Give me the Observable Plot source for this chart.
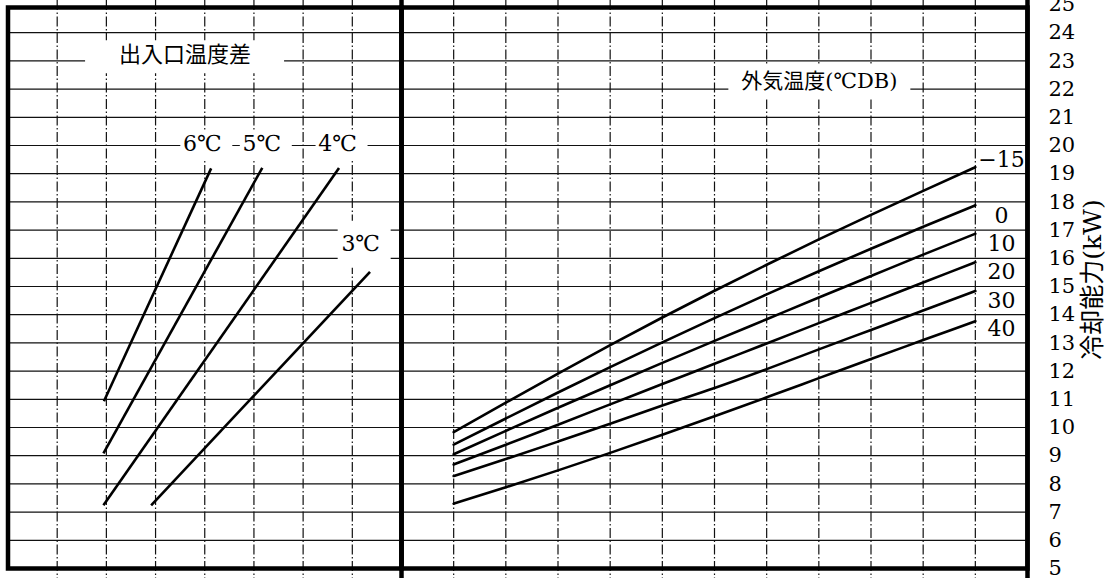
<!DOCTYPE html>
<html>
<head>
<meta charset="utf-8">
<script src="https://cdn.jsdelivr.net/npm/d3@7"></script>
<script src="https://cdn.jsdelivr.net/npm/@observablehq/plot@0.6"></script>
<style>
  html, body { margin: 0; padding: 0; background: #fff; color: #000; }
  #chart { position: relative; width: 1105px; height: 578px; overflow: hidden; background: #fff; }
  #chart svg { position: absolute; left: 0; top: 0; }
</style>
</head>
<body>
<div id="chart"></div>
<script>
// ---------------- data ----------------
// capacity axis (kW)
const capacityTicks = [5, 6, 7, 8, 9, 10, 11, 12, 13, 14, 15, 16, 17, 18, 19, 20, 21, 22, 23, 24, 25];
// grid columns of the two panels (left: 8 columns, right: 12 columns)
const leftGridX = [1, 2, 3, 4, 5, 6, 7];
const rightGridX = [1, 2, 3, 4, 5, 6, 7, 8, 9, 10, 11];

// left panel: inlet/outlet temperature difference lines
const deltaTNames = ["6℃", "5℃", "4℃", "3℃"];
const deltaTStartX = [1.95, 1.94, 1.94, 2.91];
const deltaTStartCap = [10.93, 9.08, 7.24, 7.24];
const deltaTEndX = [4.13, 5.17, 6.73, 7.36];
const deltaTEndCap = [19.19, 19.21, 19.20, 15.52];
const deltaTLabelX = [3.95, 5.16, 6.70, 7.17];
const deltaTLabelCap = [20.05, 20.05, 20.05, 16.52];

// right panel: outdoor temperature (℃DB) curves
const outdoorNames = ["−15", "0", "10", "20", "30", "40"];
const rightX = [1, 2, 3, 4, 5, 6, 7, 8, 9, 10, 11];
const capOutdoorM15 = [9.84, 10.88, 11.91, 12.92, 13.90, 14.85, 15.77, 16.67, 17.54, 18.39, 19.23];
const capOutdoor0   = [9.39, 10.32, 11.24, 12.14, 13.02, 13.88, 14.72, 15.54, 16.34, 17.12, 17.88];
const capOutdoor10  = [9.05, 9.88, 10.70, 11.50, 12.29, 13.07, 13.84, 14.61, 15.37, 16.13, 16.87];
const capOutdoor20  = [8.69, 9.39, 10.10, 10.82, 11.54, 12.26, 12.98, 13.70, 14.42, 15.14, 15.86];
const capOutdoor30  = [8.28, 8.88, 9.50, 10.13, 10.78, 11.40, 12.07, 12.77, 13.46, 14.15, 14.84];
const capOutdoor40  = [7.30, 7.88, 8.48, 9.10, 9.74, 10.40, 11.07, 11.75, 12.43, 13.10, 13.77];

// texts
const leftTitle = "出入口温度差";
const leftTitleX = 3.6, leftTitleCap = 23.2;
const rightTitle = "外気温度(℃DB)";
const rightTitleX = 8.01, rightTitleCap = 22.27;
const yTitle = "冷却能力(kW)";

// ---------------- build ----------------
const leftLines = deltaTNames.map((name, i) => ({
  name, x1: deltaTStartX[i], y1: deltaTStartCap[i], x2: deltaTEndX[i], y2: deltaTEndCap[i]
}));
const leftLabels = deltaTNames.map((name, i) => ({name, x: deltaTLabelX[i], y: deltaTLabelCap[i]}));
const leftTitleRow = [{name: leftTitle, x: leftTitleX, y: leftTitleCap}];
const rightTitleRow = [{name: rightTitle, x: rightTitleX, y: rightTitleCap}];

const outdoorSeries = [capOutdoorM15, capOutdoor0, capOutdoor10, capOutdoor20, capOutdoor30, capOutdoor40];
const rightLong = outdoorNames.flatMap((name, i) =>
  rightX.map((u, j) => ({name, x: u, y: outdoorSeries[i][j]})));
const rightLabels = outdoorNames.map((name, i) => {
  const vals = outdoorSeries[i];
  return {name, x: rightX[rightX.length - 1] + 0.5, y: Math.floor(vals[vals.length - 1]) + 0.5};
});

const SERIF = "'DejaVu Serif', 'Noto Sans CJK JP', serif";
const GOTHIC = "'Noto Sans CJK JP', sans-serif";
const W = 1105, H = 578;

// white rectangular "gap" behind a label, as a custom dot symbol (padding left, top, right, bottom in px)
const boxSymbol = ([l, t, r, b]) => ({draw(ctx) { ctx.rect(-l, -t, l + r, t + b); }});
const labelBox = (rows, pads) => Plot.dot(rows, {x: "x", y: "y", r: 1, symbol: boxSymbol(pads), fill: "#fff", stroke: "none"});

const yScale = {domain: [capacityTicks[0], capacityTicks[capacityTicks.length - 1]], axis: null};
const common = {width: W, height: H, marginTop: 4, marginBottom: 10,
  style: {background: "transparent", overflow: "visible"}};
const gridY = () => Plot.ruleY(capacityTicks.slice(1, -1), {stroke: "#111", strokeWidth: 1.2});
const gridX = (vals) => Plot.ruleX(vals, {stroke: "#111", strokeWidth: 1.2,
  strokeDasharray: "10,2.5,1.5,2.5", insetTop: -4, insetBottom: -10});
const border = () => Plot.frame({stroke: "#000", strokeWidth: 4.5, insetTop: 3});

// right panel (drawn first, underneath)
const right = Plot.plot({
  ...common,
  marginLeft: 401, marginRight: 78,
  x: {domain: [0, 12], axis: null},
  y: yScale,
  marks: [
    gridY(),
    gridX(rightGridX),
    border(),
    Plot.ruleX([0, 12], {stroke: "#000", strokeWidth: 4.5, insetTop: -4, insetBottom: -10}),
    Plot.line(rightLong, {x: "x", y: "y", z: "name", curve: "monotone-x", stroke: "#000", strokeWidth: 2.6}),
    labelBox(rightTitleRow, [91, 17, 91, 18]),
    Plot.text(rightTitleRow, {x: "x", y: "y", text: "name", fontFamily: SERIF, fontSize: 21, fill: "#000"}),
    Plot.text(rightLabels, {x: "x", y: "y", text: "name", fontFamily: SERIF, fontSize: 22, fill: "#000"}),
    Plot.text(capacityTicks, {y: d => d, text: d => String(d), frameAnchor: "right", dx: 21,
      textAnchor: "start", fontFamily: SERIF, fontSize: 21, fill: "#000"}),
    Plot.text([yTitle], {text: d => d, frameAnchor: "right", dx: 65, dy: -7, rotate: -90,
      textAnchor: "middle", fontFamily: SERIF, fontSize: 25, fill: "#000"})
  ]
});

// left panel
const left = Plot.plot({
  ...common,
  marginLeft: 7.5, marginRight: W - 401,
  x: {domain: [0, 8], axis: null},
  y: yScale,
  marks: [
    gridY(),
    gridX(leftGridX),
    border(),
    Plot.link(leftLines, {x1: "x1", y1: "y1", x2: "x2", y2: "y2", stroke: "#000", strokeWidth: 2.6}),
    labelBox(leftTitleRow, [100, 15, 99, 18]),
    Plot.text(leftTitleRow, {x: "x", y: "y", text: "name", fontFamily: GOTHIC, fontSize: 22, fill: "#000"}),
    labelBox(leftLabels.slice(0, 3), [22, 14, 30, 15]),
    labelBox(leftLabels.slice(3), [23, 23, 30, 24]),
    Plot.text(leftLabels, {x: "x", y: "y", text: "name", fontFamily: SERIF, fontSize: 22, fill: "#000"})
  ]
});

document.getElementById("chart").append(right, left);
</script>
</body>
</html>
